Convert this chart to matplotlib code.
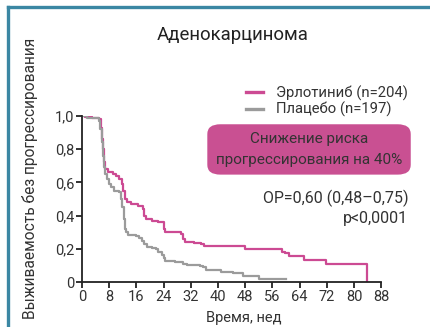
import matplotlib
matplotlib.use("Agg")
import matplotlib.pyplot as plt
from matplotlib.patches import FancyBboxPatch
from matplotlib.lines import Line2D

plt.rcParams['font.family'] = ['Roboto', 'DejaVu Sans']

# Kaplan-Meier steps: week of event, survival after it
erl_weeks = [0, 1.0, 3.0, 5.0, 5.5, 5.9, 6.2, 6.5, 6.8, 7.5, 9.0, 10.0, 11.0, 11.8,
             12.2, 12.6, 13.2, 14.5, 16.5, 17.8, 18.3, 18.8, 20.5, 22.5, 24.0, 24.4,
             29.0, 29.8, 30.2, 33.0, 35.0, 36.0, 48.0, 58.8, 59.8, 60.8, 65.4, 71.8,
             83.7, 83.7]
erl_surv = [1.0, 0.995, 0.99, 0.98, 0.93, 0.86, 0.80, 0.72, 0.68, 0.66, 0.65, 0.64,
            0.62, 0.59, 0.55, 0.50, 0.48, 0.47, 0.46, 0.44, 0.40, 0.38, 0.37, 0.36,
            0.32, 0.30, 0.29, 0.26, 0.24, 0.235, 0.228, 0.218, 0.198, 0.185, 0.175,
            0.158, 0.134, 0.108, 0.108, 0.0]

pla_weeks = [0, 1.5, 4.0, 5.0, 5.4, 5.8, 6.1, 6.4, 6.8, 7.3, 7.8, 8.5, 9.5, 11.0,
             11.4, 11.9, 12.3, 12.6, 13.0, 13.6, 16.0, 16.8, 17.5, 18.2, 19.0, 20.5,
             21.9, 22.5, 23.4, 24.0, 24.5, 27.5, 29.7, 31.0, 34.8, 35.6, 36.6, 41.0,
             44.4, 47.3, 52.0, 60.0]
pla_surv = [1.0, 0.99, 0.985, 0.97, 0.92, 0.84, 0.76, 0.69, 0.65, 0.62, 0.59, 0.57,
            0.55, 0.54, 0.50, 0.45, 0.38, 0.32, 0.30, 0.285, 0.28, 0.265, 0.25, 0.23,
            0.215, 0.205, 0.198, 0.18, 0.165, 0.145, 0.13, 0.124, 0.112, 0.106, 0.10,
            0.094, 0.074, 0.064, 0.054, 0.036, 0.022, 0.022]

x_ticks = list(range(0, 89, 8))
y_ticks = [0, 0.2, 0.4, 0.6, 0.8, 1.0]
y_labels = ["0", "0,2", "0,4", "0,6", "0,8", "1,0"]

pink = "#cc4a93"
grey = "#9b9b9b"
txt = "#333333"

fig = plt.figure(figsize=(4.31, 3.27), dpi=100)
ax = fig.add_axes([0.1903, 0.1367, 0.694, 0.509])

ax.step(erl_weeks, erl_surv, where="post", color=pink, lw=1.6,
        label="Эрлотиниб (n=204)")
ax.step(pla_weeks, pla_surv, where="post", color=grey, lw=1.6,
        label="Плацебо (n=197)")

ax.set_xlim(0, 88)
ax.set_ylim(0, 1.0)
ax.set_xticks(x_ticks)
ax.set_yticks(y_ticks)
ax.set_yticklabels(y_labels)
ax.spines[['right', 'top']].set_visible(False)
for s in ('left', 'bottom'):
    ax.spines[s].set_linewidth(1.3)
    ax.spines[s].set_color("#222222")
ax.tick_params(length=4, width=1.3, colors="#222222", labelcolor=txt,
               labelsize=10.5, pad=1.5)
ax.set_xlabel("Время, нед", fontsize=10.5, color=txt, labelpad=2)
ax.xaxis.set_label_coords(0.54, -0.17)
ax.set_ylabel("Выживаемость без прогрессирования", fontsize=11.2, color=txt)
ax.yaxis.set_label_coords(-0.148, 0.623)

fig.text(0.54, 0.893, "Аденокарцинома", fontsize=13.4, color="#222222",
         ha="center", va="center")

leg = ax.legend(loc="lower left", bbox_to_anchor=(0.53, 0.955), frameon=False,
                fontsize=10.7, handlelength=1.1, handletextpad=0.9,
                labelspacing=0.1, borderaxespad=0, labelcolor=txt)
for h in leg.get_lines():
    h.set_linewidth(2.4)

# rounded box with the risk reduction
box = FancyBboxPatch((0.481, 0.466), 0.472, 0.154,
                     boxstyle="round,pad=0,rounding_size=0.03",
                     transform=fig.transFigure, facecolor="#c95092",
                     edgecolor="none")
fig.patches.append(box)
fig.text(0.717, 0.574, "Снижение риска", fontsize=11, color=txt,
         ha="center", va="center")
fig.text(0.717, 0.512, "прогрессирования на 40%", fontsize=11, color=txt,
         ha="center", va="center")

fig.text(0.947, 0.394, "ОР=0,60 (0,48–0,75)", fontsize=11.5, color=txt,
         ha="right", va="center")
fig.text(0.947, 0.332, "p<0,0001", fontsize=11.5, color=txt,
         ha="right", va="center")

# frame lines along the top and left edge
frame = "#3b87a3"
fig.add_artist(Line2D([0.0197, 0.0197], [0.0, 0.98], transform=fig.transFigure,
                      color=frame, lw=2.4, solid_capstyle="projecting"))
fig.add_artist(Line2D([0.0197, 1.0], [0.98, 0.98], transform=fig.transFigure,
                      color=frame, lw=2.4, solid_capstyle="projecting"))

fig.savefig("out.png", dpi=100)
